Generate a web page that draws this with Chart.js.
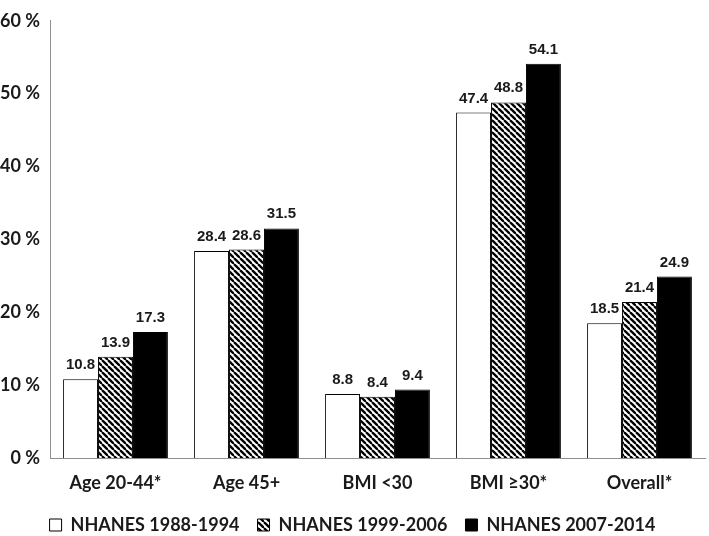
<!DOCTYPE html>
<html>
<head>
<meta charset="utf-8">
<script src="https://cdn.jsdelivr.net/npm/chart.js@4.4.1/dist/chart.umd.min.js"></script>
<style>
  html, body { margin: 0; padding: 0; background: #fff; }
  #wrap { width: 709px; height: 536px; }
</style>
</head>
<body>
<div id="wrap"><canvas id="chart" width="709" height="536"></canvas></div>
<script>
const categories = ['Age 20-44*', 'Age 45+', 'BMI <30', 'BMI \u226530*', 'Overall*'];
const seriesLabels = ['NHANES 1988-1994', 'NHANES 1999-2006', 'NHANES 2007-2014'];
const values1988 = [10.8, 28.4, 8.8, 47.4, 18.5];
const values1999 = [13.9, 28.6, 8.4, 48.8, 21.4];
const values2007 = [17.3, 31.5, 9.4, 54.1, 24.9];
const yMin = 0;
const yMax = 60;
const yStep = 10;

const axisFont = { family: 'Lato, "Open Sans", sans-serif', size: 18, weight: 'bold' };
const axisColor = '#8f8f8f';

// diagonal hatch for the middle series
function makeHatch() {
  const size = 6;
  const c = document.createElement('canvas');
  c.width = size;
  c.height = size;
  const ctx = c.getContext('2d');
  ctx.fillStyle = '#fff';
  ctx.fillRect(0, 0, size, size);
  ctx.strokeStyle = '#000';
  ctx.lineWidth = 2.3;
  for (let k = -1; k <= 1; k++) {
    ctx.beginPath();
    ctx.moveTo(k * size, 0);
    ctx.lineTo(k * size + size, size);
    ctx.stroke();
  }
  return ctx.createPattern(c, 'repeat');
}

const hatch = makeHatch();

const valueLabels = {
  id: 'valueLabels',
  afterDatasetsDraw(chart) {
    const { ctx } = chart;
    ctx.save();
    ctx.font = 'bold 15px "Liberation Sans", Arial, sans-serif';
    ctx.fillStyle = '#1a1a1a';
    ctx.textAlign = 'center';
    ctx.textBaseline = 'alphabetic';
    chart.data.datasets.forEach((ds, i) => {
      const meta = chart.getDatasetMeta(i);
      meta.data.forEach((bar, j) => {
        ctx.fillText(ds.data[j].toFixed(1), bar.x, bar.y - 10);
      });
    });
    ctx.restore();
  },
};

new Chart(document.getElementById('chart'), {
  type: 'bar',
  data: {
    labels: categories,
    datasets: [
      {
        label: seriesLabels[0],
        data: values1988,
        backgroundColor: '#ffffff',
        borderColor: '#000000',
        borderWidth: 1,
      },
      {
        label: seriesLabels[1],
        data: values1999,
        backgroundColor: hatch,
        borderColor: '#000000',
        borderWidth: 1,
      },
      {
        label: seriesLabels[2],
        data: values2007,
        backgroundColor: '#000000',
        borderColor: '#000000',
        borderWidth: 1,
      },
    ],
  },
  options: {
    responsive: false,
    animation: false,
    datasets: {
      bar: { categoryPercentage: 0.8, barPercentage: 1.0 },
    },
    layout: { padding: { top: 12, right: 4, left: 0, bottom: -8 } },
    scales: {
      x: {
        grid: { display: false, drawTicks: false },
        border: { display: true, color: axisColor, width: 1 },
        ticks: { font: axisFont, color: '#1a1a1a', padding: 14, maxRotation: 0 },
        afterFit: (scale) => { scale.height = 40; },
      },
      y: {
        min: yMin,
        max: yMax,
        grid: { display: false, drawTicks: false },
        border: { display: true, color: axisColor, width: 1 },
        ticks: {
          stepSize: yStep,
          font: axisFont,
          color: '#1a1a1a',
          padding: 10,
          callback: (v) => `${v} %`,
        },
        afterFit: (scale) => { scale.width = 50; },
      },
    },
    plugins: {
      legend: {
        position: 'bottom',
        labels: {
          font: axisFont,
          color: '#1a1a1a',
          boxWidth: 12,
          boxHeight: 12,
          padding: 18,
        },
      },
      tooltip: { enabled: false },
    },
  },
  plugins: [valueLabels],
});
</script>
</body>
</html>
